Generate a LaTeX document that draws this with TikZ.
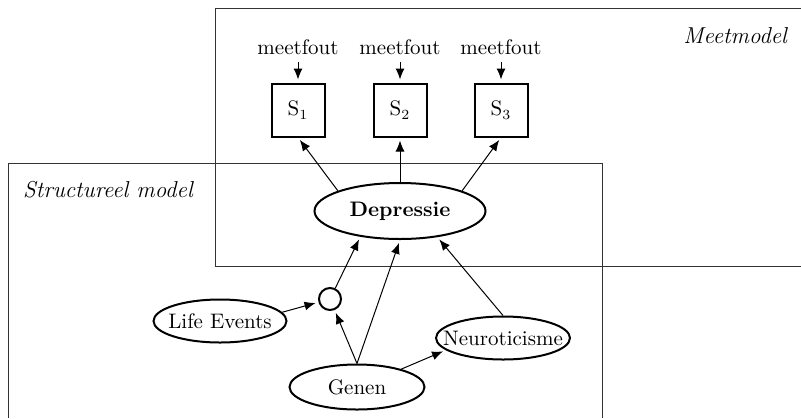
\documentclass[tikz,border=0pt]{standalone}
\usetikzlibrary{shapes.geometric,arrows.meta}
\newcommand{\nulbreed}[1]{\makebox[0pt]{#1}}
\begin{document}
\begin{tikzpicture}[x=0.5pt,y=-0.5pt,
		font=\fontsize{10.5}{12}\selectfont,
		kader/.style={draw=black!80, line width=0.5pt},
		titel/.style={font=\fontsize{11.5}{13}\selectfont\itshape},
		latent/.style={draw, ellipse, line width=1pt, inner sep=0pt},
		meting/.style={draw, rectangle, line width=1pt, minimum size=26.5pt, inner sep=0pt},
		pijl/.style={-{Latex[length=5.5pt,width=4.5pt]}, line width=0.5pt, shorten >=1.5pt}]
		\useasboundingbox (0,0) rectangle (801,418);
		
		% Kaders
		\draw[kader] (801,8) -- (215,8) -- (215,266) -- (801,266);
		\draw[kader] (8,418) -- (8,163) -- (602,163) -- (602,418);
		\node[titel, anchor=east] (mtitel) at (794,36) {Meetmodel};
		\node[titel] (stitel) at (108,190) {Structureel model};
		
		% Meetmodel
		\node[latent, minimum width=85.5pt, minimum height=28pt, font=\fontsize{10.5}{12}\selectfont\bfseries] (dep) at (400,211) {\nulbreed{Depressie}};
		\foreach \i/\x/\a in {1/298/162, 2/400/90, 3/501/18} {
			\node (fout\i) at (\x,47) {meetfout};
			\node[meting] (s\i) at (\x,110) {S$_\i$};
			\draw[pijl] (fout\i) -- (s\i);
			\draw[pijl] (dep.\a) -- (s\i.south);
		}
		
		% Structureel model
		\node[draw, circle, line width=1pt, minimum size=11pt, inner sep=0pt] (inter) at (330,299) {};
		\node[latent, minimum width=66.5pt, minimum height=21.5pt] (life) at (220,321) {\nulbreed{Life Events}};
		\node[latent, minimum width=67.5pt, minimum height=22.5pt] (genen) at (357,387) {\nulbreed{Genen}};
		\node[latent, minimum width=67pt, minimum height=21.5pt] (neuro) at (503,338) {\nulbreed{Neuroticisme}};
		
		\draw[pijl] (life.8) -- (inter);
		\draw[pijl] (genen.north) -- (inter);
		\draw[pijl] (genen.north) -- (dep.south);
		\draw[pijl] (inter) -- (dep.213);
		\draw[pijl] (genen.22) -- (neuro.192);
		\draw[pijl] (neuro.north) -- (dep.325);
	\end{tikzpicture}
\end{document}
